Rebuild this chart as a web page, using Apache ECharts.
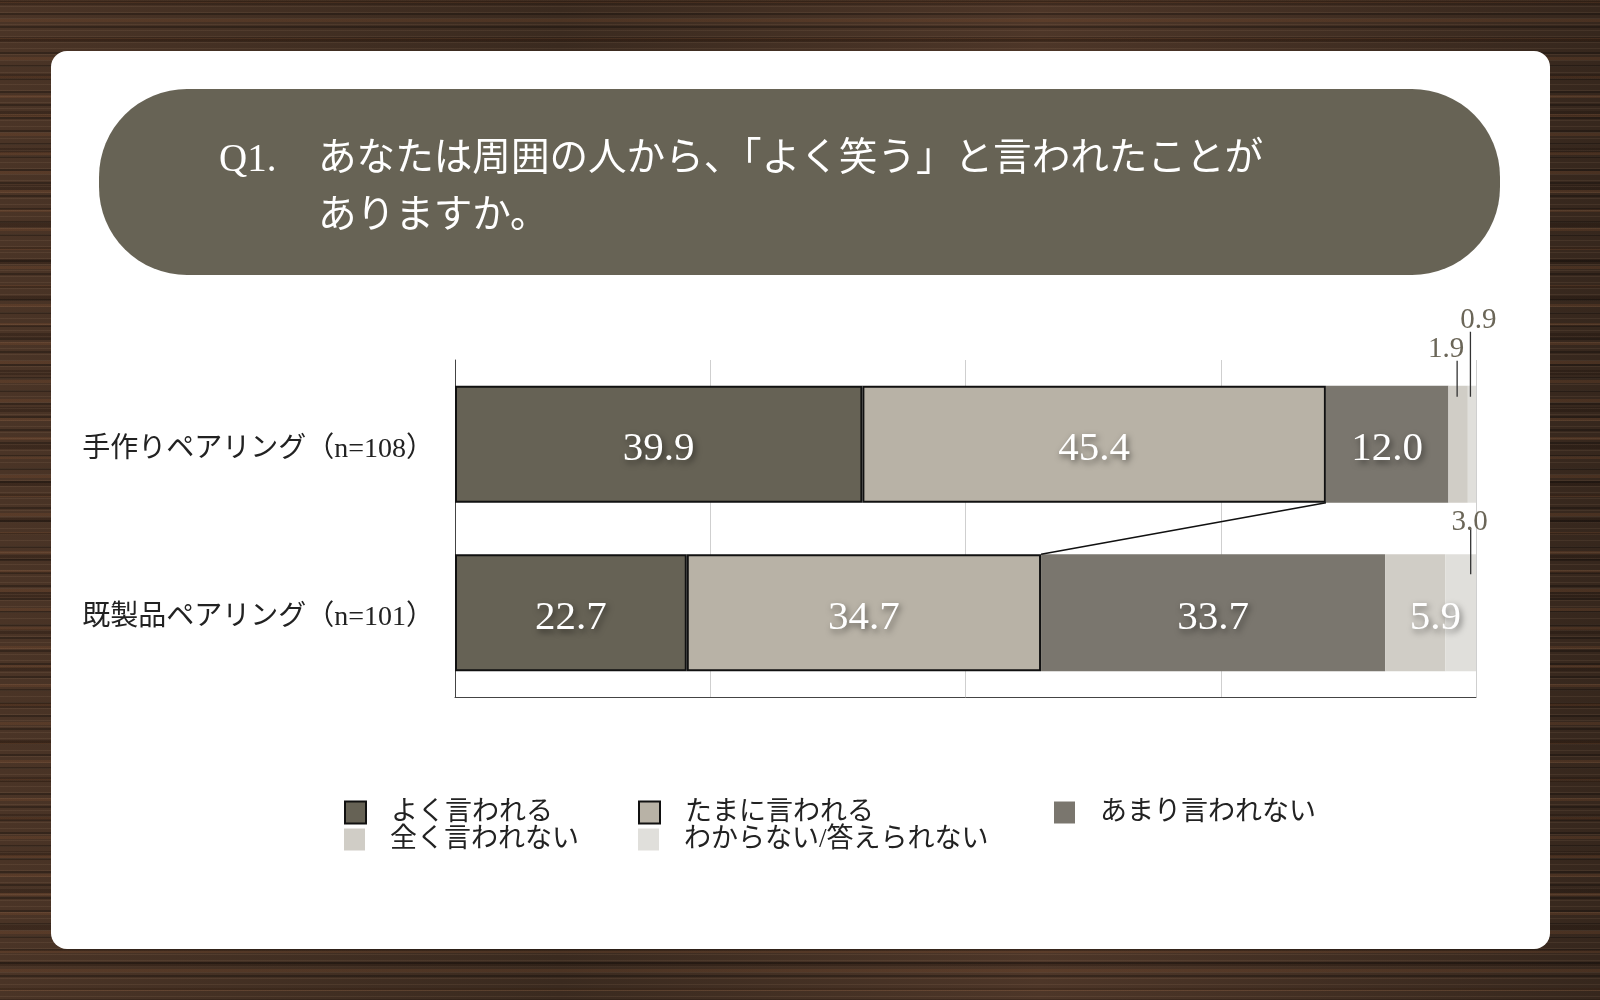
<!DOCTYPE html>
<html><head><meta charset="utf-8">
<script src="https://cdn.jsdelivr.net/npm/echarts@6/dist/echarts.min.js"></script>
<style>
html,body{margin:0;padding:0;width:1600px;height:1000px;overflow:hidden;}
body{
background:
 repeating-linear-gradient(180deg, rgba(255,210,170,0.07) 0 1px, transparent 1px 6px),
 repeating-linear-gradient(180deg, rgba(0,0,0,0.28) 0 2px, transparent 2px 13px),
 repeating-linear-gradient(180deg, rgba(140,85,50,0.22) 0 3px, transparent 3px 19px),
 repeating-linear-gradient(180deg, rgba(20,10,5,0.25) 0 5px, transparent 5px 37px),
 linear-gradient(90deg, #4a3426, #3a2a1f 35%, #4d3628 65%, #36271d);
}
#chart{width:1600px;height:1000px;}
</style></head>
<body><div id="chart"></div>
<script>
const categories = ['手作りペアリング（n=108）', '既製品ペアリング（n=101）'];
const seriesNames = ['よく言われる', 'たまに言われる', 'あまり言われない', '全く言われない', 'わからない/答えられない'];
const yoku = [39.9, 22.7];
const tamani = [45.4, 34.7];
const amari = [12.0, 33.7];
const mattaku = [1.9, 5.9];
const wakaranai = [0.9, 3.0];
const xTicks = [0, 25, 50, 75, 100];
const titleLine1 = 'あなたは周囲の人から、「よく笑う」と言われたことが';
const titleLine2 = 'ありますか。';

const values = [yoku, tamani, amari, mattaku, wakaranai];
const colors = ['#666255', '#b8b2a6', '#7a766e', '#d0cdc6', '#e0dfdb'];
const bordered = [true, true, false, false, false];
const BAR_W = 117;
const SERIF = "'Liberation Serif','Noto Sans CJK JP',serif";
const OUTSIDE_LIMIT = 4;
// label offsets (style only)
const labelShift = { '3-1': [20, 5] };
const leaderStyle = {
  '3-0': { dx: -1, up: 25, down: 11, lx: -11, ly: -11 },
  '4-0': { dx: -2, up: 54, down: 11, lx: 8, ly: -11 },
  '4-1': { dx: 10, up: 26, down: 20, lx: -1, ly: -6 }
};

function cum(row, upto) { let s = 0; for (let i = 0; i <= upto; i++) s += values[i][row]; return s; }

const barSeries = seriesNames.map((name, s) => ({
  name, type: 'bar', stack: 'total', barWidth: BAR_W,
  itemStyle: { color: colors[s], borderColor: bordered[s] ? '#111' : 'transparent', borderWidth: bordered[s] ? 2 : 0 },
  data: values[s].map((v, r) => {
    const sh = labelShift[s + '-' + r];
    const item = { value: v };
    if (sh) item.label = { offset: sh };
    return item;
  }),
  label: {
    show: true, position: 'inside', offset: [0, 5], color: '#fff', fontFamily: SERIF, fontSize: 41,
    textShadowColor: 'rgba(0,0,0,0.5)', textShadowBlur: 6, textShadowOffsetX: 2, textShadowOffsetY: 3,
    formatter: p => p.value >= OUTSIDE_LIMIT ? p.value.toFixed(1) : ''
  },
  emphasis: { disabled: true }, z: 3
}));

const leaderData = [];
values.forEach((arr, s) => arr.forEach((v, r) => {
  if (v < OUTSIDE_LIMIT) leaderData.push([s === 0 ? 0 : cum(r, s - 1), cum(r, s), r, v, s]);
}));

const connector = {
  type: 'custom', silent: true, z: 6,
  renderItem: (params, api) => {
    const a = api.coord([api.value(0), api.value(1)]);
    const b = api.coord([api.value(2), api.value(3)]);
    return { type: 'line', shape: { x1: a[0], y1: a[1] + BAR_W / 2, x2: b[0], y2: b[1] - BAR_W / 2 }, style: { stroke: '#111', lineWidth: 1.6 } };
  },
  data: [[cum(0, 1), 0, cum(1, 1), 1]]
};

const leaders = {
  type: 'custom', silent: true, z: 7,
  renderItem: (params, api) => {
    const s = api.value(4), r = api.value(2);
    const st = leaderStyle[s + '-' + r] || { dx: 0, up: 26, down: 11, lx: 0, ly: -12 };
    const c0 = api.coord([api.value(0), r]);
    const c1 = api.coord([api.value(1), r]);
    const cx = (c0[0] + c1[0]) / 2 + st.dx;
    const top = c0[1] - BAR_W / 2;
    return { type: 'group', children: [
      { type: 'line', shape: { x1: cx, y1: top - st.up, x2: cx, y2: top + st.down }, style: { stroke: '#333', lineWidth: 1.3 } },
      { type: 'text', style: { text: api.value(3).toFixed(1), x: cx + st.lx, y: top - st.up + st.ly,
        align: 'center', verticalAlign: 'middle', textAlign: 'center', textVerticalAlign: 'middle',
        font: "29px 'Liberation Serif', serif", fill: '#6b6658' } }
    ] };
  },
  data: leaderData
};

const legendPos = [[344, 799], [638, 799], [1054, 799], [344, 826], [638, 826]];
const legends = seriesNames.map((n, i) => ({
  data: [n], left: legendPos[i][0], top: legendPos[i][1], padding: 0, orient: 'horizontal',
  itemWidth: 21, itemHeight: 22, icon: 'rect', selectedMode: false,
  textStyle: { fontSize: 27, color: '#222', fontFamily: SERIF, padding: [0, 0, 0, 20] }
}));

const chart = echarts.init(document.getElementById('chart'));
chart.setOption({
  animation: false,
  graphic: [
    { type: 'rect', z: -10, shape: { x: 51, y: 51, width: 1499, height: 898, r: 16 }, style: { fill: '#fff' } },
    { type: 'rect', z: -9, shape: { x: 99, y: 89, width: 1401, height: 186, r: 88 }, style: { fill: '#676355' } },
    { type: 'text', z: -8, left: 219, top: 141, style: { text: 'Q1.', font: "39px 'Liberation Serif', serif", fill: '#fff' } },
    { type: 'text', z: -8, left: 318, top: 141, style: { text: titleLine1, font: "38.6px 'Liberation Serif','Noto Sans CJK JP', serif", fill: '#fff' } },
    { type: 'text', z: -8, left: 318, top: 198, style: { text: titleLine2, font: "38.6px 'Liberation Serif','Noto Sans CJK JP', serif", fill: '#fff' } }
  ],
  legend: legends,
  grid: { left: 455, right: 124, top: 360, height: 337, containLabel: false },
  xAxis: {
    type: 'value', min: xTicks[0], max: xTicks[xTicks.length - 1], interval: xTicks[1] - xTicks[0],
    axisLabel: { show: false }, axisTick: { show: false },
    axisLine: { show: true, lineStyle: { color: '#444', width: 1 } },
    splitLine: { show: true, lineStyle: { color: '#cfcfcf', width: 1 } }
  },
  yAxis: {
    type: 'category', data: categories, inverse: true,
    axisTick: { show: false },
    axisLine: { show: true, lineStyle: { color: '#444', width: 1 } },
    axisLabel: { fontSize: 28, color: '#222', margin: 21, fontFamily: SERIF, verticalAlign: 'top', lineHeight: 10 }
  },
  series: [...barSeries, connector, leaders]
});
</script></body></html>
